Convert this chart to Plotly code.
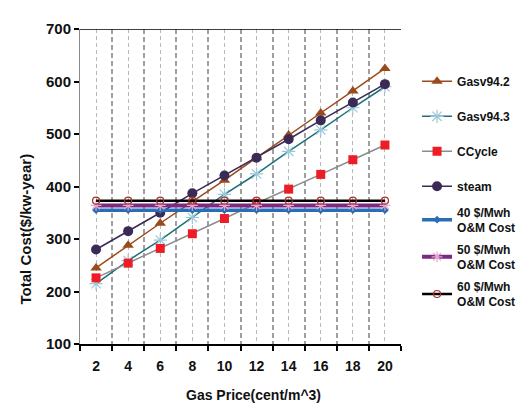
import plotly.graph_objects as go

gas_price = [2, 4, 6, 8, 10, 12, 14, 16, 18, 20]
gasv942 = [245, 288, 330, 371, 412, 455, 498, 540, 582, 625]
gasv943 = [215, 259, 298, 341, 385, 424, 467, 508, 550, 590]
ccycle = [226, 254, 282, 310, 339, 368, 395, 423, 451, 479]
steam = [280, 315, 350, 387, 421, 455, 490, 526, 560, 595]
om40 = [355] * 10
om50 = [364] * 10
om60 = [373] * 10

x_ticks = [2, 4, 6, 8, 10, 12, 14, 16, 18, 20]
x_bounds = [1, 3, 5, 7, 9, 11, 13, 15, 17, 19, 21]
y_ticks = [100, 200, 300, 400, 500, 600, 700]

FONT = "Liberation Sans"

fig = go.Figure()

main_series = [
    ("Gasv94.2", gasv942, dict(color="#9B4A1C", width=1.5),
     dict(symbol="triangle-up", size=10, color="#9B4A1C")),
    ("Gasv94.3", gasv943, dict(color="#1E6E7A", width=1.5),
     dict(symbol="asterisk-open", size=11, color="#9CC8D8", line=dict(width=1.2, color="#9CC8D8"))),
    ("CCycle", ccycle, dict(color="#8C8C8C", width=1.5),
     dict(symbol="square", size=9, color="#EE1C25")),
    ("steam", steam, dict(color="#3A2A55", width=1.5),
     dict(symbol="circle", size=10, color="#3A2A55")),
]
for i, (name, ys, ln, mk) in enumerate(main_series):
    fig.add_trace(go.Scatter(x=gas_price, y=ys, name=name, mode="lines+markers",
                             line=ln, marker=mk, legend="legend",
                             legendgroup="g%d" % i))

om_series = [
    ("40 $/Mwh<br>O&M Cost", om40, dict(color="#2A6DB5", width=3.5),
     dict(symbol="diamond", size=6, color="#2A6DB5")),
    ("50 $/Mwh<br>O&M Cost", om50, dict(color="#7A2A82", width=4),
     dict(symbol="asterisk-open", size=9, color="#E8A6CF", line=dict(width=1.2, color="#E8A6CF"))),
    ("60 $/Mwh<br>O&M Cost", om60, dict(color="#000000", width=2.5),
     dict(symbol="circle-open", size=7, color="#A8322C", line=dict(width=1.2, color="#A8322C"))),
]
for i, (name, ys, ln, mk) in enumerate(om_series):
    fig.add_trace(go.Scatter(x=gas_price, y=ys, name=name, mode="lines+markers",
                             line=ln, marker=mk, legend="legend2",
                             legendgroup="o%d" % i))

# top border line at the axis maximum
fig.add_shape(type="line", xref="paper", yref="y", x0=0, x1=1, y0=700, y1=700,
              line=dict(color="#000000", width=1.5))

fig.update_xaxes(
    range=[1, 21], tickvals=x_ticks, ticktext=[str(v) for v in x_ticks],
    ticks="", showgrid=True, gridcolor="#B8B8B8", griddash="4px,3px", gridwidth=1,
    showline=True, linecolor="#000000", linewidth=1.5, zeroline=False,
    tickfont=dict(family=FONT, size=14, color="#111111", weight="bold"),
    ticklabelstandoff=8,
    minor=dict(tickvals=x_bounds, ticks="outside", ticklen=5, tickwidth=1.5,
               tickcolor="#000000", showgrid=True, gridcolor="#A0A0A0",
               griddash="5px,3px", gridwidth=1.5),
)
fig.update_yaxes(
    range=[100, 700], tickvals=y_ticks, ticks="outside", ticklen=5, tickwidth=2,
    tickcolor="#000000", showgrid=False, showline=True, linecolor="#8A8A8A",
    linewidth=1, zeroline=False,
    tickfont=dict(family=FONT, size=15, color="#111111", weight="bold"),
)

fig.add_annotation(text="Total Cost($/kw-year)", xref="paper", yref="paper",
                   x=-0.17, y=0.365, textangle=-90, showarrow=False,
                   xanchor="center", yanchor="middle",
                   font=dict(family=FONT, size=15, color="#111111", weight="bold"))
fig.add_annotation(text="Gas Price(cent/m^3)", xref="paper", yref="paper",
                   x=0.541, y=-0.163, showarrow=False,
                   xanchor="center", yanchor="middle",
                   font=dict(family=FONT, size=14, color="#111111", weight="bold"))

fig.update_layout(
    width=524, height=404,
    margin=dict(l=72, r=112, t=15, b=68),
    paper_bgcolor="white", plot_bgcolor="white",
    legend=dict(x=1.05, y=0.88, xanchor="left", yanchor="top",
                bgcolor="rgba(0,0,0,0)", itemwidth=30, tracegroupgap=16,
                font=dict(family=FONT, size=12, color="#111111", weight="bold")),
    legend2=dict(x=1.05, y=0.465, xanchor="left", yanchor="top",
                 bgcolor="rgba(0,0,0,0)", itemwidth=30, tracegroupgap=3,
                 font=dict(family=FONT, size=12, color="#111111", weight="bold")),
)

fig.write_html("out.html")
